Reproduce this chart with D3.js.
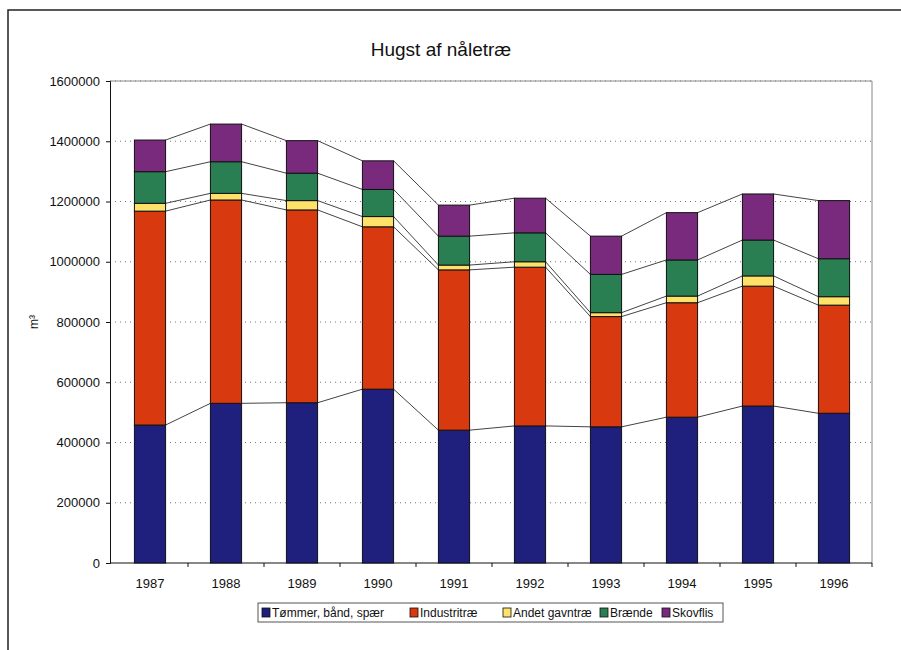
<!DOCTYPE html>
<html>
<head>
<meta charset="utf-8">
<script src="https://cdn.jsdelivr.net/npm/d3@7/dist/d3.min.js"></script>
<style>
  body { margin: 0; background: #fff; }
  svg { display: block; font-family: "Liberation Sans", Arial, sans-serif; }
</style>
</head>
<body>
<svg id="chart" width="901" height="650"></svg>
<script>
// Hugst af nåletræ, 1987–1996 (m³)
const years = ["1987","1988","1989","1990","1991","1992","1993","1994","1995","1996"];
const seriesNames = ["Tømmer, bånd, spær", "Industritræ", "Andet gavntræ", "Brænde", "Skovflis"];
const tommer   = [458000, 530000, 532000, 577000, 441000, 455000, 452000, 484000, 521000, 497000];
const industri = [710000, 675000, 640000, 539000, 532000, 527000, 366000, 380000, 398000, 359000];
const andet    = [ 26000,  22000,  31000,  34000,  16000,  18000,  13000,  22000,  34000,  28000];
const braende  = [105000, 105000,  91000,  90000,  96000,  96000, 127000, 120000, 119000, 126000];
const skovflis = [105000, 125000, 108000,  95000, 103000, 115000, 127000, 157000, 153000, 193000];
const yTicks = [0, 200000, 400000, 600000, 800000, 1000000, 1200000, 1400000, 1600000];
const colors = ["#1f1f7e", "#d8390f", "#fde168", "#2a7f52", "#7a2a7c"];

const seriesValues = [tommer, industri, andet, braende, skovflis];
const rows = years.map((yr, i) => {
  const r = { year: yr };
  seriesNames.forEach((n, k) => r[n] = seriesValues[k][i]);
  return r;
});
const stacked = d3.stack().keys(seriesNames)(rows);

const svg = d3.select("#chart");
const plotLeft = 110, plotRight = 872, plotTop = 81, plotBottom = 563;

const x = d3.scaleBand().domain(years).range([112, plotRight]).paddingInner(0.59).paddingOuter(0.295);
const y = d3.scaleLinear().domain([0, 1600000]).range([plotBottom, plotTop]);

// Outer frame
svg.append("path")
  .attr("d", "M8,650 L8,10 L901,10")
  .attr("fill", "none").attr("stroke", "#222").attr("stroke-width", 1.5);

// Title
svg.append("text").attr("x", 441).attr("y", 56).attr("text-anchor", "middle")
  .attr("font-size", 19).attr("fill", "#111").text("Hugst af nåletræ");

// Grid lines
svg.append("g").selectAll("line").data(yTicks.filter(t => t > 0)).join("line")
  .attr("x1", plotLeft).attr("x2", plotRight)
  .attr("y1", d => y(d)).attr("y2", d => y(d))
  .attr("stroke", "#777").attr("stroke-width", 1).attr("stroke-dasharray", "1,4");

// Plot area border (top and right)
svg.append("path")
  .attr("d", `M${plotLeft},${plotTop} L${plotRight},${plotTop} L${plotRight},${plotBottom}`)
  .attr("fill", "none").attr("stroke", "#888").attr("stroke-width", 1);

// Y axis
const yAxis = svg.append("g").attr("transform", `translate(${plotLeft},0)`)
  .call(d3.axisLeft(y).tickValues(yTicks).tickFormat(d3.format("d")).tickSize(4).tickPadding(6));
yAxis.select(".domain").attr("stroke", "#111");
yAxis.selectAll("line").attr("stroke", "#111");
yAxis.selectAll("text").attr("font-size", 13).attr("fill", "#111").attr("font-family", "Liberation Sans, Arial, sans-serif");

// X axis with ticks between categories
const xAxisG = svg.append("g").attr("transform", `translate(0,${plotBottom})`);
xAxisG.append("line").attr("x1", plotLeft).attr("x2", plotRight).attr("y1", 0).attr("y2", 0).attr("stroke", "#111");
const step = x.step();
xAxisG.selectAll("line.tk").data(years).join("line").attr("class", "tk")
  .attr("x1", d => x(d) + x.bandwidth() / 2 + step / 2)
  .attr("x2", d => x(d) + x.bandwidth() / 2 + step / 2)
  .attr("y1", 0).attr("y2", 4).attr("stroke", "#111");
xAxisG.selectAll("text").data(years).join("text")
  .attr("x", d => x(d) + x.bandwidth() / 2).attr("y", 25)
  .attr("text-anchor", "middle").attr("font-size", 13).attr("fill", "#111").text(d => d);

// Y axis title
svg.append("text").attr("transform", "translate(38,322) rotate(-90)")
  .attr("text-anchor", "middle").attr("font-size", 12).attr("fill", "#111").text("m³");

// Series lines connecting stacked boundaries between neighbouring bars
const seriesLines = svg.append("g");
stacked.forEach(layer => {
  for (let i = 0; i < years.length - 1; i++) {
    seriesLines.append("line")
      .attr("x1", x(years[i]) + x.bandwidth()).attr("y1", y(layer[i][1]))
      .attr("x2", x(years[i + 1])).attr("y2", y(layer[i + 1][1]))
      .attr("stroke", "#444").attr("stroke-width", 1);
  }
});

// Stacked bars
svg.append("g").selectAll("g").data(stacked).join("g")
  .attr("fill", (d, i) => colors[i])
  .selectAll("rect").data(d => d).join("rect")
  .attr("x", d => x(d.data.year))
  .attr("y", d => y(d[1]))
  .attr("width", x.bandwidth())
  .attr("height", d => y(d[0]) - y(d[1]))
  .attr("stroke", "#111").attr("stroke-width", 1);

// Legend
const lg = svg.append("g");
lg.append("rect").attr("x", 258).attr("y", 603).attr("width", 465).attr("height", 19)
  .attr("fill", "#fff").attr("stroke", "#555").attr("stroke-width", 1);
const legendX = [262, 410, 503, 600, 662];
seriesNames.forEach((n, i) => {
  lg.append("rect").attr("x", legendX[i]).attr("y", 608).attr("width", 8).attr("height", 9)
    .attr("fill", colors[i]).attr("stroke", "#111").attr("stroke-width", 0.8);
  lg.append("text").attr("x", legendX[i] + 10).attr("y", 617)
    .attr("font-size", 12).attr("fill", "#111").text(n);
});
</script>
</body>
</html>
